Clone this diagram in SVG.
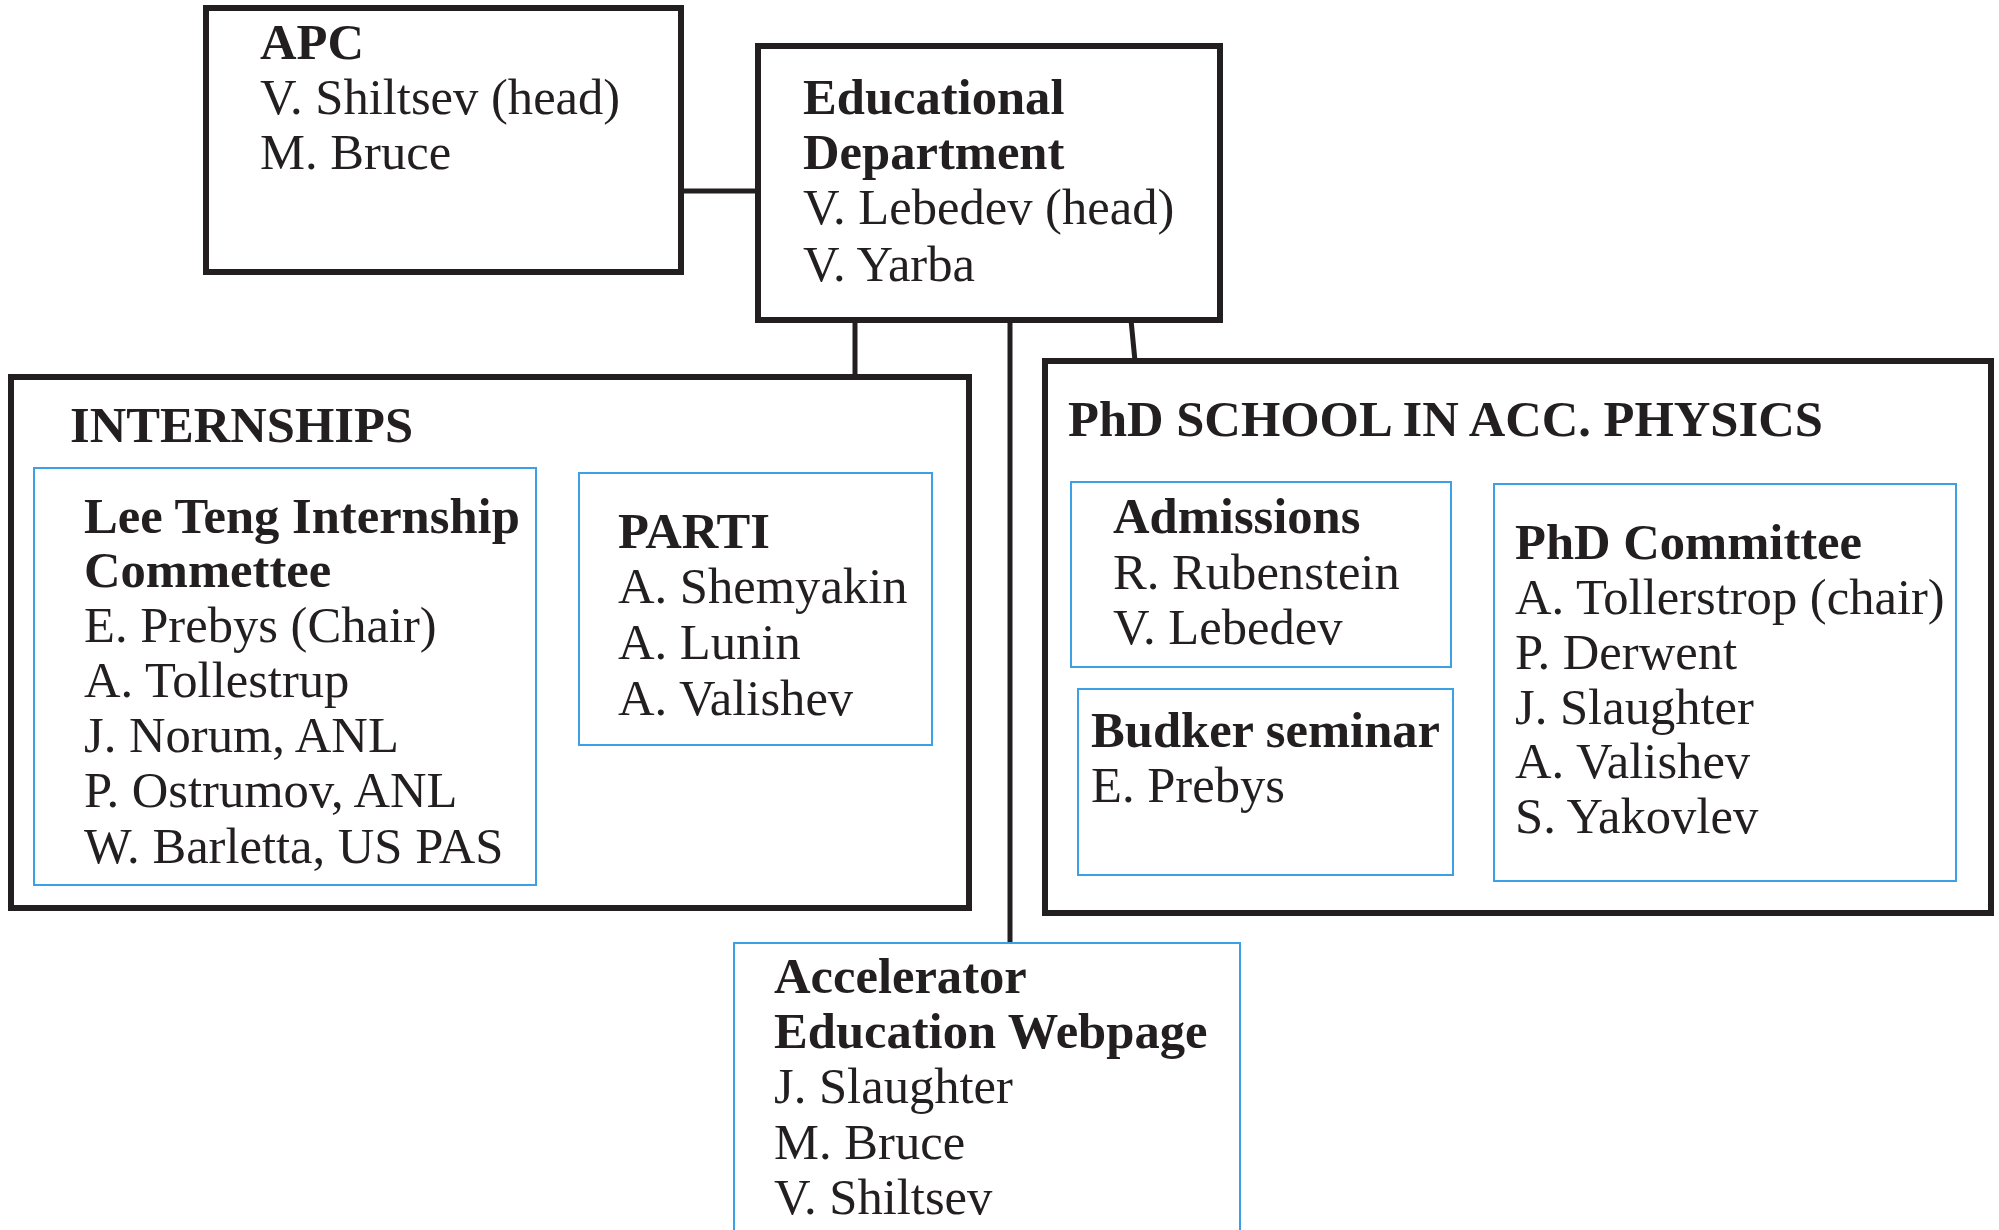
<svg xmlns="http://www.w3.org/2000/svg" width="1999" height="1230" viewBox="0 0 1999 1230">
<style>
.bg{fill:#ffffff}
.box{fill:none;stroke:#231f20;stroke-width:6}
.sub{fill:none;stroke:#3ba0e6;stroke-width:2}
.con{fill:none;stroke:#231f20;stroke-width:5}
text{font-family:"Liberation Serif","Times New Roman",serif;font-size:50.6px;fill:#231f20}
.b{font-weight:bold}
</style>
<rect class="bg" x="0" y="0" width="1999" height="1230"/>
<g id="connectors">
<line class="con" x1="681" y1="191" x2="758" y2="191"/>
<line class="con" x1="855" y1="320" x2="855" y2="377"/>
<line class="con" x1="1010" y1="320" x2="1010" y2="943"/>
<line class="con" x1="1131" y1="320" x2="1135" y2="361"/>
</g>
<g id="apc">
<rect class="box" x="206" y="8" width="475" height="264"/>
<text x="260" y="59" class="b">APC</text>
<text x="260" y="114">V. Shiltsev (head)</text>
<text x="260" y="169">M. Bruce</text>
</g>
<g id="educational-department">
<rect class="box" x="758" y="46" width="462" height="274"/>
<text x="803" y="114" class="b">Educational</text>
<text x="803" y="169" class="b">Department</text>
<text x="803" y="224">V. Lebedev (head)</text>
<text x="803" y="281">V. Yarba</text>
</g>
<g id="internships">
<rect class="box" x="11" y="377" width="958" height="531"/>
<text x="70" y="442" class="b">INTERNSHIPS</text>
</g>
<g id="lee-teng">
<rect class="sub" x="34" y="468" width="502" height="417"/>
<text x="84" y="533" class="b">Lee Teng Internship</text>
<text x="84" y="587" class="b">Commettee</text>
<text x="84" y="642">E. Prebys (Chair)</text>
<text x="84" y="697">A. Tollestrup</text>
<text x="84" y="752">J. Norum, ANL</text>
<text x="84" y="807">P. Ostrumov, ANL</text>
<text x="84" y="863">W. Barletta, US PAS</text>
</g>
<g id="parti">
<rect class="sub" x="579" y="473" width="353" height="272"/>
<text x="618" y="548" class="b">PARTI</text>
<text x="618" y="603">A. Shemyakin</text>
<text x="618" y="659">A. Lunin</text>
<text x="618" y="715">A. Valishev</text>
</g>
<g id="phd-school">
<rect class="box" x="1045" y="361" width="946" height="552"/>
<text x="1068" y="436" class="b">PhD SCHOOL IN ACC. PHYSICS</text>
</g>
<g id="admissions">
<rect class="sub" x="1071" y="482" width="380" height="185"/>
<text x="1113" y="533" class="b">Admissions</text>
<text x="1113" y="589">R. Rubenstein</text>
<text x="1113" y="644">V. Lebedev</text>
</g>
<g id="budker-seminar">
<rect class="sub" x="1078" y="689" width="375" height="186"/>
<text x="1091" y="747" class="b">Budker seminar</text>
<text x="1091" y="802">E. Prebys</text>
</g>
<g id="phd-committee">
<rect class="sub" x="1494" y="484" width="462" height="397"/>
<text x="1515" y="559" class="b">PhD Committee</text>
<text x="1515" y="614">A. Tollerstrop (chair)</text>
<text x="1515" y="669">P. Derwent</text>
<text x="1515" y="724">J. Slaughter</text>
<text x="1515" y="778">A. Valishev</text>
<text x="1515" y="833">S. Yakovlev</text>
</g>
<g id="webpage">
<rect class="sub" x="734" y="943" width="506" height="300"/>
<text x="774" y="993" class="b">Accelerator</text>
<text x="774" y="1048" class="b">Education Webpage</text>
<text x="774" y="1103">J. Slaughter</text>
<text x="774" y="1159">M. Bruce</text>
<text x="774" y="1214">V. Shiltsev</text>
</g>
</svg>
